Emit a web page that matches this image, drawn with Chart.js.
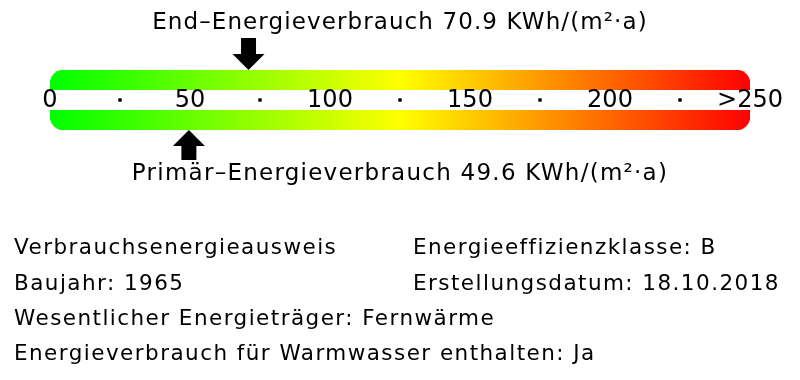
<!DOCTYPE html>
<html lang="de">
<head>
<meta charset="UTF-8">
<title>Energieausweis</title>
<script src="https://cdn.jsdelivr.net/npm/chart.js"></script>
<style>
    body {
        margin: 0;
        background: #fff;
        font-family: 'DejaVu Sans', sans-serif;
        color: #000;
    }

    #wrap {
        position: relative;
        width: 800px;
        height: 380px;
        overflow: hidden;
    }

    #skala {
        position: absolute;
        left: 0;
        top: 0;
    }

    .txt {
        position: absolute;
        white-space: nowrap;
        font-size: 21.5px;
        line-height: 22px;
        letter-spacing: 1.45px;
    }

    .kopf {
        left: 0;
        width: 800px;
        text-align: center;
        font-size: 23px;
        line-height: 23px;
    }
</style>
</head>
<body>
<div id="wrap">
    <canvas id="skala" width="800" height="380"></canvas>
    <div id="endText" class="txt kopf" style="top:10px; letter-spacing:1.1px"></div>
    <div id="primText" class="txt kopf" style="top:161px; letter-spacing:1.25px"></div>
    <div id="links0" class="txt" style="left:14px; top:236px"></div>
    <div id="rechts0" class="txt" style="left:413px; top:236px"></div>
    <div id="links1" class="txt" style="left:14px; top:272px"></div>
    <div id="rechts1" class="txt" style="left:413px; top:272px"></div>
    <div id="links2" class="txt" style="left:14px; top:307px"></div>
    <div id="links3" class="txt" style="left:14px; top:342px"></div>
</div>

<script>
    // Werte aus dem Energieausweis
    var endVerbrauch = 70.9;
    var primVerbrauch = 49.6;
    var einheit = 'KWh/(m²·a)';
    var skalaBereich = [0, 250];
    var tickWerte = [0, 50, 100, 150, 200, 250];
    var tickLabels = ['0', '50', '100', '150', '200', '>250'];
    var punktWerte = [25, 75, 125, 175, 225];
    var infoLinks = [
        'Verbrauchsenergieausweis',
        'Baujahr: 1965',
        'Wesentlicher Energieträger: Fernwärme',
        'Energieverbrauch für Warmwasser enthalten: Ja'
    ];
    var infoRechts = [
        'Energieeffizienzklasse: B',
        'Erstellungsdatum: 18.10.2018'
    ];

    document.getElementById('endText').textContent = 'End–Energieverbrauch ' + endVerbrauch + ' ' + einheit;
    document.getElementById('primText').textContent = 'Primär–Energieverbrauch ' + primVerbrauch + ' ' + einheit;
    infoLinks.forEach(function(t, i) { document.getElementById('links' + i).textContent = t; });
    infoRechts.forEach(function(t, i) { document.getElementById('rechts' + i).textContent = t; });

    function zeichnePfeil(c, x, spitze, richtung, schaftH) {
        // richtung 1 = Pfeil zeigt nach oben (Körper unterhalb), -1 = nach unten
        var kopfH = 16, kopfB = 16, schaftB = 7.5;
        c.save();
        c.fillStyle = '#000';
        c.beginPath();
        c.moveTo(x, spitze);
        c.lineTo(x + kopfB, spitze + richtung * kopfH);
        c.lineTo(x + schaftB, spitze + richtung * kopfH);
        c.lineTo(x + schaftB, spitze + richtung * (kopfH + schaftH));
        c.lineTo(x - schaftB, spitze + richtung * (kopfH + schaftH));
        c.lineTo(x - schaftB, spitze + richtung * kopfH);
        c.lineTo(x - kopfB, spitze + richtung * kopfH);
        c.closePath();
        c.fill();
        c.restore();
    }

    var pfeilPlugin = {
        id: 'pfeile',
        afterDatasetsDraw: function(chart) {
            var a = chart.chartArea;
            var xs = chart.scales.x;
            zeichnePfeil(chart.ctx, xs.getPixelForValue(endVerbrauch), a.top, -1, 16);
            zeichnePfeil(chart.ctx, xs.getPixelForValue(primVerbrauch), a.bottom, 1, 14);
        }
    };

    function verlauf(context) {
        var area = context.chart.chartArea;
        if (!area) return '#ffff00';
        var g = context.chart.ctx.createLinearGradient(area.left, 0, area.right, 0);
        g.addColorStop(0, '#00ff00');
        g.addColorStop(0.5, '#ffff00');
        g.addColorStop(1, '#ff0000');
        return g;
    }

    var skala = new Chart(document.getElementById('skala').getContext('2d'), {
        type: 'bar',
        data: {
            labels: ['Skala'],
            datasets: [
                {
                    type: 'scatter',
                    data: punktWerte.map(function(v) { return { x: v, y: 'Skala' }; }),
                    pointStyle: 'rect',
                    pointRadius: 2.4,
                    backgroundColor: '#000',
                    borderWidth: 0
                },
                {
                    data: [skalaBereich],
                    backgroundColor: '#fff',
                    barThickness: 20,
                    grouped: false,
                    borderSkipped: false,
                    borderWidth: 0,
                    inflateAmount: 0
                },
                {
                    data: [skalaBereich],
                    backgroundColor: verlauf,
                    barThickness: 60,
                    grouped: false,
                    borderRadius: 14,
                    borderSkipped: false,
                    borderWidth: 0
                }
            ]
        },
        options: {
            indexAxis: 'y',
            responsive: false,
            animation: false,
            layout: { padding: { left: 50, right: 50, top: 70, bottom: 250 } },
            plugins: {
                legend: { display: false },
                tooltip: { enabled: false }
            },
            scales: {
                x: {
                    type: 'linear',
                    min: skalaBereich[0],
                    max: skalaBereich[1],
                    offset: false,
                    position: 'center',
                    border: { display: false },
                    grid: { display: false, drawTicks: false, offset: false },
                    afterBuildTicks: function(s) {
                        s.ticks = tickWerte.map(function(v) { return { value: v }; });
                    },
                    afterFit: function(s) {
                        // Beschriftung liegt im weissen Band, keinen Rand reservieren
                        s.paddingLeft = 0;
                        s.paddingRight = 0;
                        s.paddingTop = 0;
                        s.paddingBottom = 0;
                    },
                    ticks: {
                        z: 1,
                        padding: -14,
                        autoSkip: false,
                        maxRotation: 0,
                        color: '#000',
                        font: { family: 'DejaVu Sans', size: 24 },
                        callback: function(v) { return tickLabels[tickWerte.indexOf(v)]; }
                    }
                },
                y: {
                    type: 'category',
                    offset: true,
                    display: false
                }
            }
        },
        plugins: [pfeilPlugin]
    });
</script>
</body>
</html>
